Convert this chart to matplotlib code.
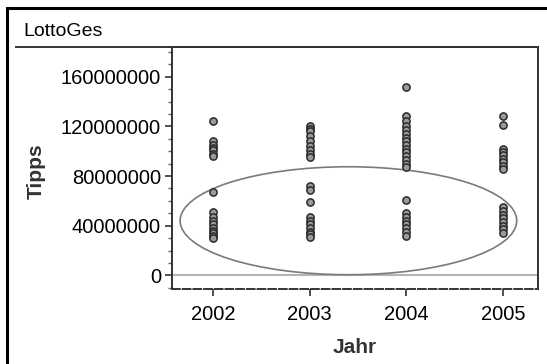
import matplotlib
matplotlib.use("Agg")
import matplotlib.pyplot as plt
from matplotlib.patches import Ellipse, Rectangle
from matplotlib.lines import Line2D
from matplotlib.ticker import MultipleLocator
import numpy as np

plt.rcParams['font.family'] = ['Liberation Sans', 'DejaVu Sans']

years = [2002, 2003, 2004, 2005]

# Tipps per draw, in millions
tipps_2002 = [124, 108, 105, 103, 101, 98, 96, 67, 51, 47, 44, 41, 38, 36, 34, 32, 30]
tipps_2003 = [120, 118, 116, 112, 108, 104, 101, 98, 95, 72, 69, 59, 47, 44, 41, 38, 35, 33, 31]
tipps_2004 = [152, 128, 124, 120, 117, 114, 111, 108, 105, 102, 99, 96, 93, 90, 87,
              61, 50, 47, 44, 41, 38, 35, 32]
tipps_2005 = [128, 121, 102, 99, 97, 94, 91, 88, 86, 55, 52, 49, 46, 43, 40, 37, 34]

y_ticks = [0, 40000000, 80000000, 120000000, 160000000]
y_ticklabels = ['0', '40000000', '80000000', '120000000', '160000000']

W, H = 547, 364
fig = plt.figure(figsize=(W / 100, H / 100), dpi=100)
ax = fig.add_axes([172 / W, 1 - 289 / H, (538 - 172) / W, (289 - 47) / H])

for yr, vals in zip(years, [tipps_2002, tipps_2003, tipps_2004, tipps_2005]):
    v = np.array(vals) * 1e6
    ax.plot(np.full(len(v), yr), v, 'o', ms=5.2, mfc='#9a9a9a', mec='#2a2a2a', mew=1.1)

ax.axhline(0, color='#b4b4b4', lw=1.5, zorder=0)
ax.add_patch(Ellipse((2003.40, 44e6), 3.48, 87e6, fill=False, ec='#7a7a7a', lw=1.2))

ax.set_xlim(2001.576, 2005.36)
ax.set_ylim(-11e6, 184e6)
ax.set_xticks(years)
ax.set_xticklabels([str(y) for y in years], fontsize=14.5)
ax.set_yticks(y_ticks)
ax.set_yticklabels(y_ticklabels, fontsize=14.5)
ax.yaxis.set_minor_locator(MultipleLocator(10e6))
ax.tick_params(axis='both', which='major', length=5, width=1.2, color='#333333', pad=3)
ax.tick_params(axis='x', which='major', pad=6.5)
ax.tick_params(axis='y', which='minor', length=3, width=1, color='#666666')

ax.set_xlabel('Jahr', fontsize=15, fontweight='bold', color='#333333', labelpad=10)
ax.set_ylabel('Tipps', fontsize=15, fontweight='bold', color='#333333')
ax.yaxis.set_label_coords(-0.345, 0.488)

for s in ['left', 'right', 'top']:
    ax.spines[s].set_color('#333333')
    ax.spines[s].set_linewidth(1.4)
ax.spines['bottom'].set_color('#333333')
ax.spines['bottom'].set_linewidth(1.4)
ax.spines['bottom'].set_linestyle((0, (4, 1.5)))

# title band and outer frame
fig.add_artist(Line2D([16 / W, 538 / W], [1 - 47 / H, 1 - 47 / H], color='#333333', lw=1.4))
fig.text(23 / W, 1 - 31 / H, 'LottoGes', fontsize=14, va='center', ha='left')
fig.add_artist(Rectangle((6.5 / W, -0.1), 1.2, 1.1 - 8.5 / H, fill=False, ec='black', lw=2.2))

fig.savefig('out.png', dpi=100)
